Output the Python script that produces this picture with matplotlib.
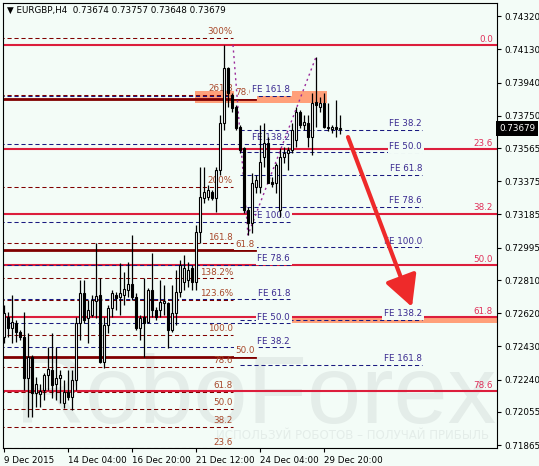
import matplotlib
matplotlib.use('Agg')
import matplotlib.pyplot as plt
import matplotlib.transforms as mtransforms
from matplotlib.patches import Rectangle
import numpy as np

# EURGBP H4 candles
opens = [0.72484, 0.72599, 0.72536, 0.72564, 0.72513, 0.72484, 0.72250, 0.72370, 0.72164, 0.72158,
         0.72181, 0.72267, 0.72296, 0.72216, 0.72250, 0.72107, 0.72170, 0.72141, 0.72238, 0.72564,
         0.72736, 0.72593, 0.72610, 0.72690, 0.72725, 0.72341, 0.72553, 0.72650, 0.72725, 0.72713,
         0.72725, 0.72753, 0.72788, 0.72713, 0.72536, 0.72599, 0.72570, 0.72753, 0.72639, 0.72639,
         0.72679, 0.72679, 0.72524, 0.72622, 0.72742, 0.72799, 0.72810, 0.72879, 0.72799, 0.73085,
         0.73279, 0.73285, 0.73314, 0.73279, 0.73440, 0.73708, 0.74023, 0.73869, 0.73800, 0.73686,
         0.73565, 0.73211, 0.73136, 0.73342, 0.73342, 0.73514, 0.73594, 0.73371, 0.73365, 0.73211,
         0.73514, 0.73537, 0.73554, 0.73611, 0.73771, 0.73697, 0.73708, 0.73628, 0.73829, 0.73800,
         0.73823, 0.73686, 0.73674, 0.73686, 0.73674]
highs = [0.72667, 0.72627, 0.72725, 0.72582, 0.72524, 0.72627, 0.72507, 0.72380, 0.72256, 0.72216,
         0.72279, 0.72427, 0.72507, 0.72427, 0.72296, 0.72238, 0.72296, 0.72296, 0.72599, 0.72810,
         0.72810, 0.72696, 0.72725, 0.73022, 0.72822, 0.72599, 0.72667, 0.72753, 0.72742, 0.72908,
         0.72856, 0.72913, 0.73068, 0.72736, 0.72610, 0.72822, 0.72765, 0.72965, 0.72656, 0.72810,
         0.72782, 0.72685, 0.72782, 0.72868, 0.72925, 0.72954, 0.72913, 0.72896, 0.73125, 0.73457,
         0.73457, 0.73354, 0.73325, 0.73457, 0.73754, 0.74155, 0.74029, 0.73880, 0.73811, 0.73697,
         0.73571, 0.73228, 0.73423, 0.73411, 0.73697, 0.73708, 0.73628, 0.73400, 0.73480, 0.73565,
         0.73571, 0.73571, 0.73708, 0.73800, 0.73783, 0.73754, 0.73754, 0.73880, 0.74086, 0.73857,
         0.73880, 0.73823, 0.73697, 0.73840, 0.73757]
lows = [0.72450, 0.72484, 0.72450, 0.72456, 0.72467, 0.72181, 0.72027, 0.72027, 0.72084, 0.72084,
        0.72124, 0.72181, 0.72135, 0.72124, 0.72107, 0.72078, 0.72124, 0.72067, 0.72181, 0.72467,
        0.72564, 0.72450, 0.72599, 0.72593, 0.72336, 0.72307, 0.72507, 0.72599, 0.72639, 0.72610,
        0.72667, 0.72713, 0.72696, 0.72524, 0.72467, 0.72370, 0.72564, 0.72599, 0.72582, 0.72599,
        0.72610, 0.72421, 0.72513, 0.72553, 0.72713, 0.72753, 0.72771, 0.72753, 0.72753, 0.73022,
        0.73251, 0.73268, 0.73268, 0.73199, 0.73411, 0.73668, 0.73800, 0.73771, 0.73668, 0.73537,
        0.73194, 0.73068, 0.73079, 0.73308, 0.73308, 0.73457, 0.73365, 0.73342, 0.73308, 0.73171,
        0.73480, 0.73440, 0.73537, 0.73571, 0.73680, 0.73668, 0.73571, 0.73525, 0.73686, 0.73771,
        0.73680, 0.73663, 0.73651, 0.73628, 0.73648]
closes = [0.72622, 0.72536, 0.72570, 0.72513, 0.72484, 0.72250, 0.72370, 0.72164, 0.72216, 0.72175,
          0.72267, 0.72301, 0.72210, 0.72250, 0.72267, 0.72170, 0.72141, 0.72238, 0.72564, 0.72736,
          0.72582, 0.72639, 0.72696, 0.72719, 0.72341, 0.72553, 0.72650, 0.72736, 0.72707, 0.72736,
          0.72759, 0.72788, 0.72713, 0.72536, 0.72593, 0.72564, 0.72753, 0.72639, 0.72599, 0.72685,
          0.72690, 0.72524, 0.72622, 0.72742, 0.72896, 0.72879, 0.72868, 0.72799, 0.73085, 0.73285,
          0.73314, 0.73325, 0.73279, 0.73440, 0.73708, 0.74023, 0.73880, 0.73794, 0.73680, 0.73554,
          0.73211, 0.73136, 0.73365, 0.73382, 0.73485, 0.73594, 0.73365, 0.73360, 0.73468, 0.73514,
          0.73537, 0.73554, 0.73668, 0.73771, 0.73697, 0.73714, 0.73628, 0.73823, 0.73811, 0.73823,
          0.73686, 0.73680, 0.73686, 0.73674, 0.73679]

date_ticks = [0, 16, 32, 48, 64, 80]
date_labels = ['9 Dec 2015', '14 Dec 04:00', '16 Dec 20:00', '21 Dec 12:00', '24 Dec 04:00', '29 Dec 20:00']
price_ticks = [0.74320, 0.74130, 0.73940, 0.73750, 0.73565, 0.73375, 0.73185,
               0.72995, 0.72810, 0.72620, 0.72430, 0.72240, 0.72055, 0.71865]

# Fibonacci retracement (red)
fib_hi, fib_lo = 0.74152, 0.71635
fib_levels = [0.0, 23.6, 38.2, 50.0, 61.8, 78.6]
# Fibonacci levels, maroon solid
mfib_hi, mfib_lo = 0.74952, 0.69790
mfib_levels = [50.0, 61.8, 78.6]
# Fibonacci extension (maroon dashed)
ext_0, ext_100 = 0.71647, 0.72496
ext_levels = [23.6, 38.2, 50.0, 61.8, 78.6, 100.0, 123.6, 138.2, 161.8, 200.0, 261.8, 300.0]
ext_labels = ['23.6', '38.2', '50.0', '61.8', '78.6', '100.0', '123.6%', '138.2%', '161.8', '200%', '261.8', '300%']
# Fibonacci expansions (navy dashed)
fe_levels = [38.2, 50.0, 61.8, 78.6, 100.0, 138.2, 161.8]
fe1_0, fe1_100 = 0.71981, 0.73144
fe2_0, fe2_100 = 0.74083, 0.72997
# zigzag of the expansion
zz_x = [57.25, 61, 78]
zz_y = [0.74155, 0.73068, 0.74086]
# zones
zone1 = (47.75, 80.75, 0.73823, 0.73891)
zone2 = (70.25, 123.5, 0.72562, 0.72593)
# forecast arrow
arrow_from = (86.0, 0.73628)
arrow_to = (102.0, 0.72656)

last_price = closes[-1]

bg = '#F3FCF7'
red = '#DC1E3C'
maroon = '#800000'
navy = '#1A1A80'
brown_txt = '#A8482A'
fe_txt = '#3A2A90'

plt.rcParams['font.family'] = 'DejaVu Sans'
fig = plt.figure(figsize=(5.39, 4.66), dpi=100, facecolor=bg)
ax = fig.add_axes([3 / 539, 1 - 448 / 466, 494 / 539, 445 / 466], facecolor=bg)

fs = 6.3

def label(x, y, s, color, box=False):
    kw = {}
    if box:
        kw['bbox'] = dict(boxstyle='square,pad=0.2', fc=bg, ec='none')
    ax.annotate(s, (x, y), xytext=(0, 1.2), textcoords='offset points', ha='right', va='bottom',
                fontsize=fs, color=color, zorder=3, **kw)

# watermark
ax.text(0.025, 0.056, 'RoboForex', transform=ax.transAxes, fontsize=70, color='#E4EDE9',
        family='Liberation Sans', ha='left', va='baseline', zorder=0.5)
ax.text(0.985, 0.028, 'ИСПОЛЬЗУЙ РОБОТОВ – ПОЛУЧАЙ ПРИБЫЛЬ', transform=ax.transAxes, fontsize=8.5,
        color='#E4EDE9', ha='right', va='center', zorder=0.5)

# zones
for x0, x1, y0, y1 in [zone1, zone2]:
    ax.add_patch(Rectangle((x0, y0), x1 - x0, y1 - y0, fc='#FFA07A', ec='none', zorder=1))

# red retracement
for lv in fib_levels:
    p = fib_hi - lv / 100 * (fib_hi - fib_lo)
    ax.plot([-1, 124], [p, p], color=red, lw=1.5, zorder=2)
    label(122.25, p, f'{lv:.1f}', '#E0305A')

# maroon solid levels
for lv in mfib_levels:
    p = mfib_lo + lv / 100 * (mfib_hi - mfib_lo)
    ax.plot([-1, 62.75], [p, p], color=maroon, lw=2, zorder=2)
    label(62.75, p, f'{lv:.1f}', brown_txt, box=True)

# extension (maroon dashed)
for lv, s in zip(ext_levels, ext_labels):
    p = ext_0 + lv / 100 * (ext_100 - ext_0)
    ax.plot([-1, 57.25], [p, p], color=maroon, lw=0.75, dashes=(4, 2.7), zorder=2)
    label(57.25, p, s, brown_txt)

# expansions (navy dashed)
for lv in fe_levels:
    p = fe1_0 + lv / 100 * (fe1_100 - fe1_0)
    ax.plot([-1, 71.5], [p, p], color=navy, lw=0.75, dashes=(4, 2.7), zorder=2)
    label(71.5, p, f'FE {lv:.1f}', fe_txt, box=True)
for lv in fe_levels:
    p = fe2_0 - lv / 100 * (fe2_0 - fe2_100)
    ax.plot([59, 104.5], [p, p], color=navy, lw=0.75, dashes=(4, 2.7), zorder=2)
    label(104.5, p, f'FE {lv:.1f}', fe_txt, box=True)

ax.plot(zz_x, zz_y, color='#9A2A9A', lw=1, dashes=(1.5, 2.5), zorder=3.5)

# candles
idx = np.arange(len(opens))
o = np.array(opens); c = np.array(closes)
ax.vlines(idx, lows, highs, color='black', lw=0.9, zorder=4)
bottom = np.minimum(o, c)
height = np.maximum(np.abs(c - o), 0.00003)
fill = ['white' if cc >= oo else 'black' for oo, cc in zip(o, c)]
ax.bar(idx, height, bottom=bottom, width=0.55, color=fill, edgecolor='black', lw=0.8, zorder=4.5)

# arrow
ax.annotate('', xy=arrow_to, xytext=arrow_from,
            arrowprops=dict(arrowstyle='-|>,head_length=0.95,head_width=0.5', color='#EE2A2A',
                            lw=3, shrinkA=0, shrinkB=0, mutation_scale=20), zorder=5)

ax.set_xlim(-0.25, 123.25)
ax.set_ylim(0.71849, 0.74395)

ax.yaxis.tick_right()
ax.set_yticks(price_ticks)
ax.set_yticklabels([f'{p:.5f}' for p in price_ticks])
ax.set_xticks(date_ticks)
ax.set_xticklabels(date_labels, ha='left')
ax.tick_params(axis='both', labelsize=fs, length=3, width=0.8, color='black', pad=2)
ax.tick_params(axis='x', pad=3)
for sp in ax.spines.values():
    sp.set_color('black')
    sp.set_linewidth(0.8)

# current price box
trans = mtransforms.blended_transform_factory(ax.transAxes, ax.transData)
ax.text(1.004, last_price, f'{last_price:.5f}', transform=trans, fontsize=fs, color='white',
        va='center', ha='left', clip_on=False, zorder=6,
        bbox=dict(boxstyle='square,pad=0.35', fc='black', ec='none'))

fig.text(7 / 539, 1 - 10 / 466, '▼ EURGBP,H4  0.73674 0.73757 0.73648 0.73679',
         fontsize=fs, color='black', va='center', ha='left')

fig.savefig('out.png', dpi=100, facecolor=bg)
